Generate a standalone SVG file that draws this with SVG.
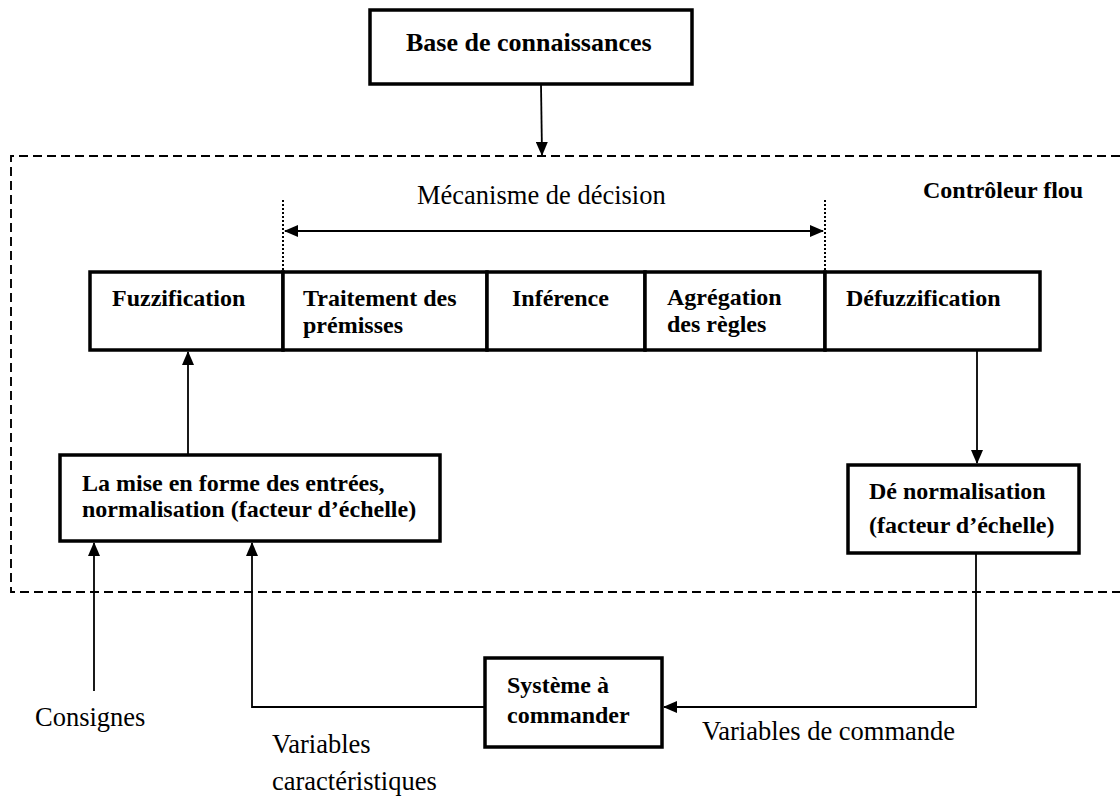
<svg xmlns="http://www.w3.org/2000/svg" width="1120" height="798" viewBox="0 0 1120 798">
<style>
.box{fill:#fff;stroke:#000;stroke-width:3.5}
.b{font-family:"Liberation Serif","Times New Roman",serif;font-weight:bold;font-size:24px;fill:#000}
.r{font-family:"Liberation Serif","Times New Roman",serif;font-size:26.5px;fill:#000}
.c{fill:none;stroke:#000;stroke-width:1.8}
</style>
<defs>
<marker id="ah" markerUnits="userSpaceOnUse" markerWidth="14" markerHeight="12" refX="13" refY="6" orient="auto">
<path d="M0,0 L14,6 L0,12 Z" fill="#000"/>
</marker>
<marker id="ahs" markerUnits="userSpaceOnUse" markerWidth="14" markerHeight="12" refX="1" refY="6" orient="auto">
<path d="M14,0 L0,6 L14,12 Z" fill="#000"/>
</marker>
</defs>
<rect width="1120" height="798" fill="#fff"/>
<g id="boundary">
<path d="M1120,156 H11 V592 H1120" fill="none" stroke="#000" stroke-width="1.9" stroke-dasharray="9 5"/>
<text class="b" x="923" y="198">Contrôleur flou</text>
</g>
<g id="base">
<rect class="box" x="370" y="10" width="322" height="74"/>
<text class="b" x="406" y="51" style="font-size:26px">Base de connaissances</text>
</g>
<g id="decision">
<line x1="283" y1="200" x2="283" y2="272" stroke="#000" stroke-width="2" stroke-dasharray="2 2"/>
<line x1="825" y1="200" x2="825" y2="272" stroke="#000" stroke-width="2" stroke-dasharray="2 2"/>
<text class="r" x="417" y="204">Mécanisme de décision</text>
</g>
<g id="fuzzification">
<rect class="box" x="90" y="272" width="193" height="78"/>
<text class="b" x="112" y="306">Fuzzification</text>
</g>
<g id="traitement">
<rect class="box" x="283" y="272" width="204" height="78"/>
<text class="b" x="303" y="306">Traitement des</text>
<text class="b" x="303" y="333">prémisses</text>
</g>
<g id="inference">
<rect class="box" x="487" y="272" width="158" height="78"/>
<text class="b" x="512" y="306">Inférence</text>
</g>
<g id="agregation">
<rect class="box" x="645" y="272" width="180" height="78"/>
<text class="b" x="667" y="305">Agrégation</text>
<text class="b" x="667" y="332">des règles</text>
</g>
<g id="defuzzification">
<rect class="box" x="825" y="272" width="215" height="78"/>
<text class="b" x="846" y="306">Défuzzification</text>
</g>
<g id="mise-en-forme">
<rect class="box" x="60" y="455" width="380" height="86"/>
<text class="b" x="82" y="491">La mise en forme des entrées,</text>
<text class="b" x="82" y="517">normalisation (facteur d’échelle)</text>
</g>
<g id="denormalisation">
<rect class="box" x="848" y="465" width="231" height="88"/>
<text class="b" x="869" y="499">Dé normalisation</text>
<text class="b" x="869" y="533">(facteur d’échelle)</text>
</g>
<g id="systeme">
<rect class="box" x="485" y="658" width="177" height="89"/>
<text class="b" x="507" y="693">Système à</text>
<text class="b" x="507" y="723">commander</text>
</g>
<g id="labels">
<text class="r" x="35" y="726">Consignes</text>
<text class="r" x="272" y="753">Variables</text>
<text class="r" x="272" y="790">caractéristiques</text>
<text class="r" x="702" y="740">Variables de commande</text>
</g>
<g id="connectors">
<line class="c" x1="541" y1="84" x2="542" y2="155" marker-end="url(#ah)"/>
<line class="c" x1="285" y1="231" x2="823" y2="231" stroke-width="2.5" marker-start="url(#ahs)" marker-end="url(#ah)"/>
<line class="c" x1="188" y1="455" x2="188" y2="352" marker-end="url(#ah)"/>
<line class="c" x1="977" y1="350" x2="977" y2="463" marker-end="url(#ah)"/>
<line class="c" x1="94" y1="691" x2="94" y2="543" marker-end="url(#ah)"/>
<polyline class="c" points="485,707 252,707 252,543" marker-end="url(#ah)"/>
<polyline class="c" points="976,553 976,707 664,707" marker-end="url(#ah)"/>
</g>
</svg>
